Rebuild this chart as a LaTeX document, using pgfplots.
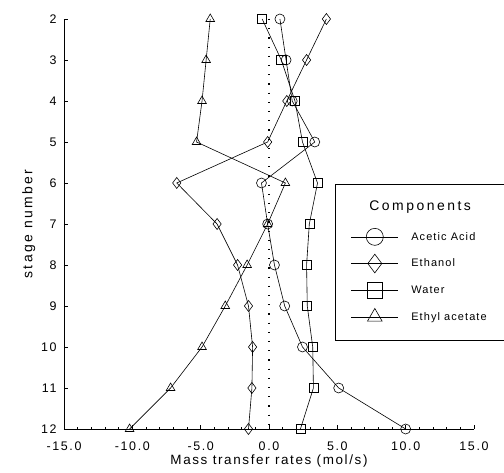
\documentclass[border=0pt]{standalone}
\usepackage{fontspec}
\setmainfont{Liberation Sans}
\usepackage{pgfplots}
\usepackage{pgfplotstable}
\usetikzlibrary{calc}
\pgfplotsset{compat=1.18}
\pgfplotstableread{
stage acetic ethanol water ethyl
2   0.8   4.2  -0.5  -4.3
3   1.25  2.75  0.9  -4.6
4   1.7   1.3   1.9  -4.9
5   3.35 -0.1   2.45 -5.3
6  -0.55 -6.75  3.55  1.2
7  -0.1  -3.8   2.95 -0.1
8   0.4  -2.3   2.75 -1.6
9   1.15 -1.5   2.8  -3.2
10  2.45 -1.2   3.2  -4.9
11  5.1  -1.25  3.25 -7.2
12  10.0 -1.5   2.3  -10.2
}\datatable
\begin{document}
\begin{tikzpicture}
\begin{axis}[
  scale only axis, width=410bp, height=410bp,
  xmin=-15, xmax=15, ymin=-12, ymax=-2,
  axis x line=bottom, axis y line=left,
  axis line style={-, line width=0.6bp},
  tick align=inside,
  xtick={-15,-10,...,15}, minor x tick num=4,
  ytick={-12,...,-2},
  yticklabel={\pgfmathparse{int(-\tick)}\pgfmathresult},
  major tick length=4bp, minor tick length=2.5bp,
  every tick/.style={black, line width=0.5bp},
  /pgf/number format/fixed, /pgf/number format/fixed zerofill,
  /pgf/number format/precision=1, /pgf/number format/assume math mode=true,
  tick label style={font=\fontsize{12.5}{14}\selectfont\addfontfeatures{LetterSpace=13}},
  xticklabel style={yshift=-9bp},
  yticklabel style={xshift=-4bp},
  xlabel={Mass transfer rates (mol/s)},
  ylabel={stage number},
  xlabel style={font=\fontsize{13.5}{15}\selectfont\addfontfeatures{LetterSpace=12}, yshift=2bp},
  ylabel style={font=\fontsize{14}{15}\selectfont\addfontfeatures{LetterSpace=17}, yshift=-1bp},
  clip=false,
  every axis plot/.append style={black, line width=0.6bp, mark options={solid, fill=white, line width=0.6bp}},
  legend image code/.code={\path[draw=none, fill=none] (0bp,-6bp) rectangle (57bp,6bp); \draw[overlay, mark repeat=2,mark phase=2,#1, every mark/.append style={scale=1.7}] plot coordinates {(0bp,0bp)(23.5bp,0bp)(47bp,0bp)};},
  legend style={at={(0.661,0.5985)}, anchor=north west, draw=black, line width=0.6bp,
    font=\fontsize{11}{12}\selectfont\addfontfeatures{LetterSpace=10}, row sep=14.7bp,
    column sep=3bp, nodes={inner sep=0bp},
    inner xsep=16bp, inner ysep=17bp},
  legend cell align=left,
]
\addlegendimage{empty legend}
\addlegendentry{\hspace{-42bp}\fontsize{14}{16}\selectfont\addfontfeatures{LetterSpace=18}\raisebox{4bp}{Components}}
\addplot[mark=o, mark size=5bp] table[x=acetic, y expr=-\thisrow{stage}] {\datatable};
\addlegendentry{\makebox[95bp][l]{Acetic Acid}}
\addplot[mark=diamond, mark size=5.5bp] table[x=ethanol, y expr=-\thisrow{stage}] {\datatable};
\addlegendentry{Ethanol}
\addplot[mark=square, mark size=4.5bp] table[x=water, y expr=-\thisrow{stage}] {\datatable};
\addlegendentry{Water}
\addplot[mark=triangle, mark size=5bp] table[x=ethyl, y expr=-\thisrow{stage}] {\datatable};
\addlegendentry{Ethyl acetate}
\addplot[forget plot, line width=1.2bp, dash pattern=on 1.2bp off 8bp] coordinates {(0,-2) (0,-12)};
\coordinate (bl) at (axis cs:-15,-12);
\end{axis}
\pgfresetboundingbox
\path[use as bounding box] ($(bl)+(-64bp,-44bp)$) rectangle ($(bl)+(440bp,429bp)$);
\end{tikzpicture}
\end{document}
